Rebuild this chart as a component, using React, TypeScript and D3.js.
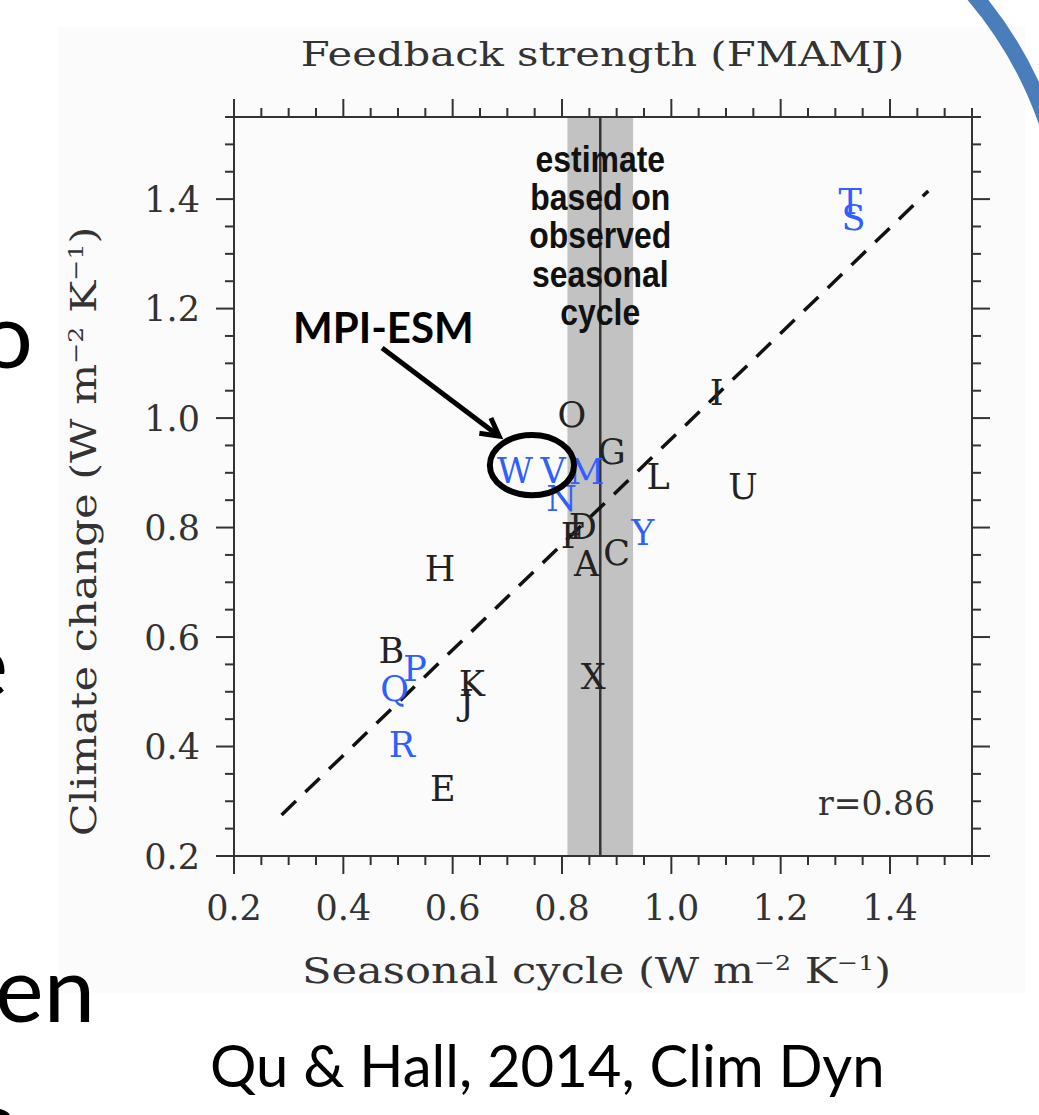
import React from 'react';
import * as d3 from 'd3';

// model letters and their feedback strengths (W m-2 K-1)
const models = ['A', 'B', 'C', 'D', 'E', 'F', 'G', 'H', 'I', 'J', 'K', 'L', 'M',
  'N', 'O', 'P', 'Q', 'R', 'S', 'T', 'U', 'V', 'W', 'X', 'Y'];
const seasonalCycle = [0.845, 0.488, 0.900, 0.838, 0.582, 0.820, 0.891, 0.577, 1.083,
  0.626, 0.635, 0.976, 0.845, 0.799, 0.818, 0.531, 0.494, 0.507, 1.333, 1.327, 1.131,
  0.784, 0.714, 0.857, 0.948];
const climateChange = [0.735, 0.576, 0.754, 0.802, 0.324, 0.786, 0.939, 0.726, 1.046,
  0.480, 0.516, 0.893, 0.902, 0.854, 1.006, 0.543, 0.507, 0.403, 1.367, 1.395, 0.875,
  0.905, 0.905, 0.528, 0.792];
const blueModels = ['M', 'N', 'P', 'Q', 'R', 'S', 'T', 'V', 'W', 'Y'];

const xTickLabels = ['0.2', '0.4', '0.6', '0.8', '1.0', '1.2', '1.4'];
const yTickLabels = ['0.2', '0.4', '0.6', '0.8', '1.0', '1.2', '1.4'];

// regression line end points
const fitSeasonal = [0.287, 1.47];
const fitClimate = [0.275, 1.415];

// observed estimate band
const obsRange = [0.81, 0.93];
const obsBest = 0.87;
const obsNote = ['estimate', 'based on', 'observed', 'seasonal', 'cycle'];
const corrText = 'r=0.86';

// annotation (data coords)
const noteLabel = 'MPI-ESM';
const noteAt = [0.308, 1.137];
const arrowFrom = [0.471, 1.128];
const arrowTo = [0.685, 0.967];
const ringCenter = [0.745, 0.914];
const ringSize = [0.077, 0.055];

const W = 1039;
const H = 1115;
const serif = '"DejaVu Serif", serif';
const sans = 'Lato, "Open Sans", sans-serif';

const x = d3.scaleLinear().domain([0.2, 1.55]).range([234, 972]);
const y = d3.scaleLinear().domain([0.2, 1.55]).range([856, 117]);

function Units() {
  return (
    <>
      {' (W m'}
      <tspan dy={-13} fontSize={21}>−2</tspan>
      <tspan dy={13}>{' K'}</tspan>
      <tspan dy={-13} fontSize={21}>−1</tspan>
      <tspan dy={13}>)</tspan>
    </>
  );
}

export default function App() {
  const [x0, x1] = x.range();
  const [y0, y1] = y.range();
  const minor = d3.range(0.2, 1.5501, 0.05);
  const major = xTickLabels.map(Number);
  const yMajor = yTickLabels.map(Number);
  const tickCol = '#333';

  const fit = d3.line<number>()
    .x(d => x(d))
    .y((d, i) => y(fitClimate[i]));

  // arrow head
  const ax = x(arrowTo[0]);
  const ay = y(arrowTo[1]);
  const ang = Math.atan2(ay - y(arrowFrom[1]), ax - x(arrowFrom[0]));
  const head = 20;
  const arms = [ang + Math.PI - 0.5, ang + Math.PI + 0.5].map(a => [ax + head * Math.cos(a), ay + head * Math.sin(a)]);

  const arc = d3.path();
  arc.arc(669, 254, 400, -0.75, 0.1);

  return (
    <svg width={W} height={H} style={{ position: 'absolute', left: 0, top: 0, background: '#fff' }}>
      <rect x={58} y={27} width={967} height={966} fill="#fbfbfb" />

      {/* slide text fragments */}
      <g fontFamily={sans} fontSize={92} fill="#000" textAnchor="end">
        <text x={33} y={368}>o</text>
        <text x={8} y={697}>e</text>
        <text x={95} y={1022}>een</text>
        <text x={14} y={1155}>s</text>
      </g>

      {/* observational band */}
      <rect x={x(obsRange[0])} y={y1} width={x(obsRange[1]) - x(obsRange[0])} height={y0 - y1} fill="#c2c2c2" />
      <line x1={x(obsBest)} x2={x(obsBest)} y1={y1} y2={y0} stroke="#333" strokeWidth={2.5} />

      {/* frame */}
      <rect x={x0} y={y1} width={x1 - x0} height={y0 - y1} fill="none" stroke={tickCol} strokeWidth={2} />

      {/* ticks */}
      <g stroke={tickCol} strokeWidth={2}>
        {minor.map((v, i) => {
          const isMajor = major.some(m => Math.abs(m - v) < 1e-6);
          const len = isMajor ? 18 : 9;
          return (
            <g key={i}>
              <line x1={x(v)} x2={x(v)} y1={y0} y2={y0 + len} />
              <line x1={x(v)} x2={x(v)} y1={y1} y2={y1 - len} />
            </g>
          );
        })}
        {minor.map((v, i) => {
          const isMajor = yMajor.some(m => Math.abs(m - v) < 1e-6);
          const len = isMajor ? 18 : 9;
          return (
            <g key={i}>
              <line x1={x0} x2={x0 - len} y1={y(v)} y2={y(v)} />
              <line x1={x1} x2={x1 + len} y1={y(v)} y2={y(v)} />
            </g>
          );
        })}
      </g>

      {/* tick labels */}
      <g fontFamily={serif} fontSize={35} fill="#333">
        {xTickLabels.map(t => (
          <text key={t} x={x(+t)} y={920} textAnchor="middle">{t}</text>
        ))}
        {yTickLabels.map(t => (
          <text key={t} x={200} y={y(+t)} dy="0.36em" textAnchor="end">{t}</text>
        ))}
      </g>

      {/* titles, stretched to the wide plotting font of the original */}
      <g fontFamily={serif} fill="#333" textAnchor="middle">
        <text transform="translate(602.5,66) scale(1.265,1)" fontSize={33}>Feedback strength (FMAMJ)</text>
        <text transform="translate(596.5,983) scale(1.2,1)" fontSize={36}>
          Seasonal cycle<Units />
        </text>
        <text transform="translate(96,531.5) rotate(-90) scale(1.2,1)" fontSize={36}>
          Climate change<Units />
        </text>
      </g>
      <text x={935} y={815} fontFamily={serif} fontSize={33} fill="#333" textAnchor="end">{corrText}</text>

      {/* regression */}
      <path d={fit(fitSeasonal) || ''} fill="none" stroke="#111" strokeWidth={3.5} strokeDasharray="20 13" />

      {/* observation note */}
      <g fontFamily='"Liberation Sans", Arial, sans-serif' fontWeight="bold" fontSize={35.5} fill="#111" textAnchor="middle">
        {obsNote.map((t, i) => (
          <text key={t} transform={`translate(${x(obsBest)},${171.7 + i * 38.3}) scale(0.9,1.06)`}>{t}</text>
        ))}
      </g>

      {/* model letters */}
      <g fontFamily={serif} fontSize={35} textAnchor="middle">
        {models.map((m, i) => (
          <text key={m} x={x(seasonalCycle[i])} y={y(climateChange[i])} dy="0.36em"
            fill={blueModels.includes(m) ? '#2f5fff' : '#222'}>{m}</text>
        ))}
      </g>

      {/* MPI-ESM annotation */}
      <text x={x(noteAt[0])} y={y(noteAt[1])} fontFamily={sans} fontWeight="bold" fontSize={42} fill="#000">{noteLabel}</text>
      <line x1={x(arrowFrom[0])} y1={y(arrowFrom[1])} x2={ax} y2={ay} stroke="#000" strokeWidth={5} />
      <polyline points={`${arms[0][0]},${arms[0][1]} ${ax},${ay} ${arms[1][0]},${arms[1][1]}`} fill="none" stroke="#000" strokeWidth={5} strokeLinejoin="miter" />
      <ellipse cx={x(ringCenter[0])} cy={y(ringCenter[1])}
        rx={x(ringCenter[0] + ringSize[0]) - x(ringCenter[0])}
        ry={y(ringCenter[1]) - y(ringCenter[1] + ringSize[1])}
        fill="none" stroke="#000" strokeWidth={6} />

      {/* caption */}
      <text x={210} y={1087} fontFamily={sans} fontSize={58} fill="#000">Qu &amp; Hall, 2014, Clim Dyn</text>

      {/* slide decoration */}
      <path d={arc.toString()} fill="none" stroke="#4a7ebb" strokeWidth={16} />
    </svg>
  );
}
